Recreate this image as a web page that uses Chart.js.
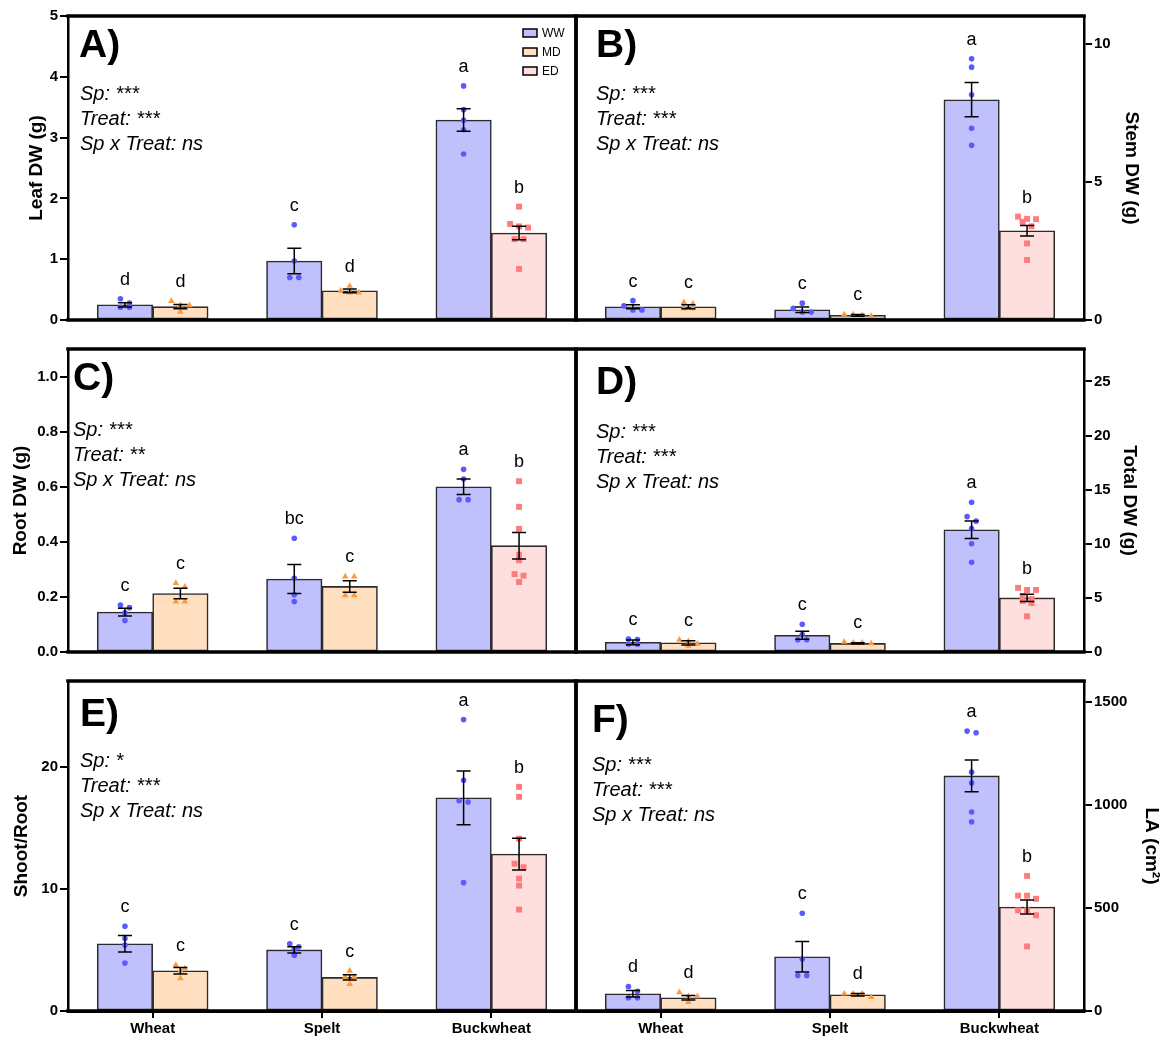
<!DOCTYPE html>
<html>
<head>
<meta charset="utf-8">
<script src="https://cdn.jsdelivr.net/npm/chart.js@4.4.1/dist/chart.umd.min.js"></script>
<style>
  body { margin: 0; background: #fff; }
  #wrap { position: relative; width: 1166px; height: 1040px; overflow: hidden; }
  #wrap canvas { position: absolute; }
</style>
</head>
<body>
<div id="wrap">
  <canvas id="chartA"></canvas>
  <canvas id="chartC"></canvas>
  <canvas id="chartE"></canvas>
  <canvas id="chartB"></canvas>
  <canvas id="chartD"></canvas>
  <canvas id="chartF"></canvas>
</div>
<script>
"use strict";

const species = ["Wheat", "Spelt", "Buckwheat"];
const treatments = ["WW", "MD", "ED"];
// drought level used for each species (buckwheat got ED, the cereals MD)
const drought = ["MD", "MD", "ED"];

// A) leaf dry weight
const leafWW = [0.25, 0.97, 3.29];
const leafWWse = [0.035, 0.21, 0.185];
const leafDr = [0.22, 0.48, 1.43];
const leafDrSe = [0.035, 0.03, 0.11];
const leafLetWW = ["d", "c", "a"];
const leafLetDr = ["d", "d", "b"];
const leafPtsWW = [[0.35, 0.28, 0.21, 0.21], [1.565, 0.97, 0.7, 0.7], [3.85, 3.46, 3.285, 3.13, 2.73]];
const leafPtsDr = [[0.31, 0.24, 0.24, 0.135], [0.56, 0.48, 0.45, 0.45], [1.865, 1.58, 1.54, 1.52, 1.33, 1.33, 0.84]];
const leafTicks = [0, 1, 2, 3, 4, 5];
const leafStats = ["Sp: ***", "Treat: ***", "Sp x Treat: ns"];

// B) stem dry weight
const stemWW = [0.48, 0.37, 7.97];
const stemWWse = [0.07, 0.1, 0.62];
const stemDr = [0.48, 0.17, 3.23];
const stemDrSe = [0.07, 0.03, 0.19];
const stemLetWW = ["c", "c", "a"];
const stemLetDr = ["c", "c", "b"];
const stemPtsWW = [[0.7, 0.51, 0.365, 0.365], [0.61, 0.42, 0.29, 0.29], [9.45, 9.15, 8.15, 6.94, 6.32]];
const stemPtsDr = [[0.64, 0.59, 0.42, 0.42], [0.2, 0.2, 0.17, 0.14], [3.74, 3.66, 3.65, 3.55, 3.39, 2.77, 2.17]];
const stemTicks = [0, 5, 10];
const stemStats = ["Sp: ***", "Treat: ***", "Sp x Treat: ns"];

// C) root dry weight
const rootWW = [0.145, 0.265, 0.6];
const rootWWse = [0.014, 0.053, 0.028];
const rootDr = [0.212, 0.238, 0.386];
const rootDrSe = [0.019, 0.021, 0.048];
const rootLetWW = ["c", "bc", "a"];
const rootLetDr = ["c", "c", "b"];
const rootPtsWW = [[0.17, 0.161, 0.142, 0.114], [0.413, 0.268, 0.208, 0.183], [0.663, 0.628, 0.553, 0.553]];
const rootPtsDr = [[0.25, 0.237, 0.183, 0.183], [0.274, 0.274, 0.206, 0.206], [0.62, 0.527, 0.447, 0.353, 0.333, 0.283, 0.277, 0.254]];
const rootTicks = [0, 0.2, 0.4, 0.6, 0.8, 1.0];
const rootStats = ["Sp: ***", "Treat: **", "Sp x Treat: ns"];

// D) total dry weight
const totalWW = [0.9, 1.55, 11.3];
const totalWWse = [0.22, 0.37, 0.8];
const totalDr = [0.85, 0.79, 5.0];
const totalDrSe = [0.2, 0.06, 0.33];
const totalLetWW = ["c", "c", "a"];
const totalLetDr = ["c", "c", "b"];
const totalPtsWW = [[1.2, 1.15, 0.75, 0.72], [2.57, 1.61, 1.13, 1.13], [13.84, 12.51, 12.09, 11.41, 10.0, 8.3]];
const totalPtsDr = [[1.13, 0.99, 0.76, 0.56], [0.93, 0.85, 0.85, 0.79], [5.93, 5.73, 5.73, 5.17, 4.89, 4.72, 4.52, 3.3]];
const totalTicks = [0, 5, 10, 15, 20, 25];
const totalStats = ["Sp: ***", "Treat: ***", "Sp x Treat: ns"];

// E) shoot / root ratio
const ratioWW = [5.5, 5.0, 17.44];
const ratioWWse = [0.68, 0.25, 2.2];
const ratioDr = [3.29, 2.75, 12.84];
const ratioDrSe = [0.27, 0.22, 1.3];
const ratioLetWW = ["c", "c", "a"];
const ratioLetDr = ["c", "c", "b"];
const ratioPtsWW = [[6.94, 5.93, 5.39, 3.92], [5.5, 5.25, 5.06, 4.57], [23.84, 18.88, 17.2, 17.09, 10.5]];
const ratioPtsDr = [[3.76, 3.48, 3.29, 2.67], [3.29, 2.8, 2.8, 2.2], [18.34, 17.52, 14.1, 12.05, 11.76, 10.83, 10.26, 8.3]];
const ratioTicks = [0, 10, 20];
const ratioStats = ["Sp: *", "Treat: ***", "Sp x Treat: ns"];

// F) leaf area (cm2)
const laWW = [83.5, 263, 1140];
const laWWse = [16, 74, 77];
const laDr = [64, 79, 504];
const laDrSe = [11, 6, 34];
const laLetWW = ["d", "c", "a"];
const laLetDr = ["d", "d", "b"];
const laPtsWW = [[119, 96, 64, 64], [474, 252, 172, 172], [1357, 1349, 1158, 1106, 965, 917]];
const laPtsDr = [[91, 71, 71, 43], [84, 84, 84, 67], [655, 559, 559, 544, 488, 488, 464, 313]];
const laTicks = [0, 500, 1000, 1500];
const laStats = ["Sp: ***", "Treat: ***", "Sp x Treat: ns"];

const FONT = "'Liberation Sans', Arial, Helvetica, sans-serif";
Chart.defaults.font.family = FONT;
Chart.defaults.color = "#000";

const look = {
  WW: { fill: "#c0c0fc", dot: "#5a5aff", shape: "circle", r: 2.8 },
  MD: { fill: "#ffdfc0", dot: "#ff9a3c", shape: "triangle", r: 3.8 },
  ED: { fill: "#ffdede", dot: "#ff7c7c", shape: "rect", r: 4.2 },
};

const CAT_PCT = 0.655;
const HALF = CAT_PCT / 4;     // bar centre offset from species centre (x units)
const CAT_PX = 508 / 3;       // width of one species slot in px
const DOT_GAP = 9;
const CAP = 7;
const LETTER_GAP = 19;
const X_AXIS_H = 29;

const panels = [
  { id: "A", title: "Leaf DW (g)", side: "left", max: 5, ticks: leafTicks, dec: 0,
    ww: leafWW, wwSe: leafWWse, dr: leafDr, drSe: leafDrSe, letWW: leafLetWW, letDr: leafLetDr,
    ptsWW: leafPtsWW, ptsDr: leafPtsDr, stats: leafStats,
    box: { left: 0, top: 0, width: 590, height: 360 }, pad: { top: 16, bottom: 11 },
    titlePad: 25, label: [11, 30], text: [12, 78], legend: true },
  { id: "B", title: "Stem DW (g)", side: "right", max: 11, ticks: stemTicks, dec: 0,
    ww: stemWW, wwSe: stemWWse, dr: stemDr, drSe: stemDrSe, letWW: stemLetWW, letDr: stemLetDr,
    ptsWW: stemPtsWW, ptsDr: stemPtsDr, stats: stemStats,
    box: { left: 562, top: 0, width: 604, height: 360 }, pad: { top: 16, bottom: 11 },
    titlePad: 23, label: [20, 30], text: [20, 78] },
  { id: "C", title: "Root DW (g)", side: "left", max: 1.1, ticks: rootTicks, dec: 1,
    ww: rootWW, wwSe: rootWWse, dr: rootDr, drSe: rootDrSe, letWW: rootLetWW, letDr: rootLetDr,
    ptsWW: rootPtsWW, ptsDr: rootPtsDr, stats: rootStats,
    box: { left: 0, top: 335, width: 590, height: 360 }, pad: { top: 14, bottom: 14 },
    titlePad: 9, label: [5, 30], text: [5, 81] },
  { id: "D", title: "Total DW (g)", side: "right", max: 28, ticks: totalTicks, dec: 0,
    ww: totalWW, wwSe: totalWWse, dr: totalDr, drSe: totalDrSe, letWW: totalLetWW, letDr: totalLetDr,
    ptsWW: totalPtsWW, ptsDr: totalPtsDr, stats: totalStats,
    box: { left: 562, top: 335, width: 604, height: 360 }, pad: { top: 14, bottom: 14 },
    titlePad: 25, label: [20, 34], text: [20, 83] },
  { id: "E", title: "Shoot/Root", side: "left", max: 27, ticks: ratioTicks, dec: 0,
    ww: ratioWW, wwSe: ratioWWse, dr: ratioDr, drSe: ratioDrSe, letWW: ratioLetWW, letDr: ratioLetDr,
    ptsWW: ratioPtsWW, ptsDr: ratioPtsDr, stats: ratioStats,
    box: { left: 0, top: 667, width: 590, height: 373 }, pad: { top: 14, bottom: 0 },
    titlePad: 10, label: [12, 34], text: [12, 80], xLabels: true },
  { id: "F", title: "LA (cm\u00B2)", side: "right", max: 1600, ticks: laTicks, dec: 0,
    ww: laWW, wwSe: laWWse, dr: laDr, drSe: laDrSe, letWW: laLetWW, letDr: laLetDr,
    ptsWW: laPtsWW, ptsDr: laPtsDr, stats: laStats,
    box: { left: 562, top: 667, width: 604, height: 373 }, pad: { top: 14, bottom: 0 },
    titlePad: 3, label: [16, 40], text: [16, 84], xLabels: true },
];

// near-equal values sit side by side, like a prism scatter
function spread(vals, pxPerUnit) {
  const out = [];
  let row = [];
  const flush = () => {
    row.forEach((v, k) => out.push({ v, dx: (k - (row.length - 1) / 2) * DOT_GAP / CAT_PX }));
    row = [];
  };
  vals.forEach(v => {
    if (row.length && Math.abs(row[0] - v) * pxPerUnit > 5) flush();
    row.push(v);
  });
  flush();
  return out;
}

function makeDeco(p) {
  return {
    id: "deco" + p.id,
    afterDatasetsDraw(chart) {
      const ctx = chart.ctx;
      const yS = chart.scales.y;
      ctx.save();
      ctx.strokeStyle = "#000";
      ctx.fillStyle = "#000";
      ctx.lineWidth = 1.5;
      ctx.font = "18px " + FONT;
      ctx.textAlign = "center";
      ctx.textBaseline = "middle";
      chart.data.datasets.forEach((ds, d) => {
        if (ds.type !== "bar") return;
        const meta = chart.getDatasetMeta(d);
        ds.data.forEach((pt, i) => {
          const v = pt.y;
          const x = meta.data[i].x;
          const hi = yS.getPixelForValue(v + ds.se[i]);
          const lo = yS.getPixelForValue(v - ds.se[i]);
          ctx.beginPath();
          ctx.moveTo(x, hi); ctx.lineTo(x, lo);
          ctx.moveTo(x - CAP, hi); ctx.lineTo(x + CAP, hi);
          ctx.moveTo(x - CAP, lo); ctx.lineTo(x + CAP, lo);
          ctx.stroke();
          const top = Math.max(v + ds.se[i], ...ds.pts[i]);
          ctx.fillText(ds.letters[i], x, yS.getPixelForValue(top) - LETTER_GAP);
        });
      });
      ctx.restore();
    },
    afterDraw(chart) {
      const ctx = chart.ctx;
      const ca = chart.chartArea;
      ctx.save();
      // panel frame (the axis side is drawn by the scale)
      ctx.strokeStyle = "#000";
      ctx.lineWidth = 3.5;
      ctx.lineCap = "square";
      ctx.beginPath();
      if (p.side === "left") {
        ctx.moveTo(ca.left, ca.top); ctx.lineTo(ca.right, ca.top);
        ctx.lineTo(ca.right, ca.bottom); ctx.lineTo(ca.left, ca.bottom);
      } else {
        ctx.moveTo(ca.right, ca.top); ctx.lineTo(ca.left, ca.top);
        ctx.lineTo(ca.left, ca.bottom); ctx.lineTo(ca.right, ca.bottom);
      }
      ctx.stroke();

      ctx.fillStyle = "#000";
      ctx.textAlign = "left";
      ctx.textBaseline = "middle";
      ctx.font = "bold 39px " + FONT;
      ctx.fillText(p.id + ")", ca.left + p.label[0], ca.top + p.label[1]);

      ctx.font = "italic 20px " + FONT;
      p.stats.forEach((s, k) => ctx.fillText(s, ca.left + p.text[0], ca.top + p.text[1] + k * 25));

      if (p.legend) {
        ctx.font = "12px " + FONT;
        ctx.lineWidth = 1.5;
        treatments.forEach((t, k) => {
          const bx = ca.right - 53;
          const by = ca.top + 17 + k * 19;
          ctx.fillStyle = look[t].fill;
          ctx.fillRect(bx, by - 4, 14, 8);
          ctx.strokeRect(bx, by - 4, 14, 8);
          ctx.fillStyle = "#000";
          ctx.fillText(t, bx + 19, by + 0.5);
        });
      }
      ctx.restore();
    },
  };
}

function buildPanel(p) {
  const cv = document.getElementById("chart" + p.id);
  cv.width = p.box.width;
  cv.height = p.box.height;
  cv.style.left = p.box.left + "px";
  cv.style.top = p.box.top + "px";

  const areaH = p.box.height - p.pad.top - p.pad.bottom - (p.xLabels ? X_AXIS_H : 0);
  const pxPerUnit = areaH / p.max;

  const barBase = {
    type: "bar",
    order: 2,
    grouped: false,
    borderColor: "#2b2b2b",
    borderWidth: 1.6,
    borderSkipped: false,
    barPercentage: 1,
    categoryPercentage: 1,
  };
  // well watered bar left of each species, drought bar (MD or ED) right of it
  const barSets = [
    { ...barBase, label: "WW", se: p.wwSe, letters: p.letWW, pts: p.ptsWW,
      data: p.ww.map((v, i) => ({ x: i - HALF, y: v })),
      backgroundColor: look.WW.fill },
    { ...barBase, label: "drought", se: p.drSe, letters: p.letDr, pts: p.ptsDr,
      data: p.dr.map((v, i) => ({ x: i + HALF, y: v })),
      backgroundColor: drought.map(t => look[t].fill) },
  ];

  const dotSets = treatments.map(t => {
    const data = [];
    species.forEach((_, i) => {
      const isWW = t === "WW";
      if (!isWW && drought[i] !== t) return;
      const vals = isWW ? p.ptsWW[i] : p.ptsDr[i];
      const cx = i + (isWW ? -HALF : HALF);
      spread(vals, pxPerUnit).forEach(d => data.push({ x: cx + d.dx, y: d.v }));
    });
    return {
      type: "scatter",
      label: t + " points",
      order: 1,
      data,
      pointStyle: look[t].shape,
      pointRadius: look[t].r,
      backgroundColor: look[t].dot,
      borderWidth: 0,
      pointBorderWidth: 0,
    };
  });

  new Chart(cv, {
    type: "bar",
    data: { datasets: [...barSets, ...dotSets] },
    plugins: [makeDeco(p)],
    options: {
      responsive: false,
      animation: false,
      events: [],
      layout: {
        padding: {
          top: p.pad.top,
          bottom: p.pad.bottom,
          left: p.side === "left" ? 0 : 14,
          right: p.side === "left" ? 14 : 0,
        },
      },
      plugins: { legend: { display: false }, tooltip: { enabled: false } },
      scales: {
        x: {
          type: "linear",
          display: !!p.xLabels,
          min: -0.5,
          max: 2.5,
          offset: false,
          grid: { display: true, drawOnChartArea: false, offset: false, tickLength: 7, color: "#000", lineWidth: 2 },
          border: { display: true, color: "#000", width: 3 },
          ticks: {
            includeBounds: false,
            font: { size: 15, weight: "bold" },
            padding: 2,
            color: "#000",
            callback: v => species[v],
          },
          afterBuildTicks: axis => { axis.ticks = species.map((_, i) => ({ value: i })); },
          afterFit: s => { s.height = X_AXIS_H; },
        },
        y: {
          position: p.side,
          min: 0,
          max: p.max,
          grid: { display: true, drawOnChartArea: false, tickLength: 8, color: "#000", lineWidth: 2 },
          border: { display: true, color: "#000", width: 2.5 },
          ticks: {
            includeBounds: false,
            padding: 2,
            font: { size: 15, weight: "bold" },
            color: "#000",
            callback: v => Number(v).toFixed(p.dec),
          },
          afterBuildTicks: axis => { axis.ticks = p.ticks.map(v => ({ value: v })); },
          afterFit: s => { s.width = p.side === "left" ? 68 : 82; },
          title: {
            display: true,
            text: p.title,
            color: "#000",
            font: { size: 19, weight: "bold", lineHeight: 1.2 },
            padding: { top: p.titlePad, bottom: 0 },
          },
        },
      },
    },
  });
}

panels.forEach(buildPanel);
</script>
</body>
</html>
